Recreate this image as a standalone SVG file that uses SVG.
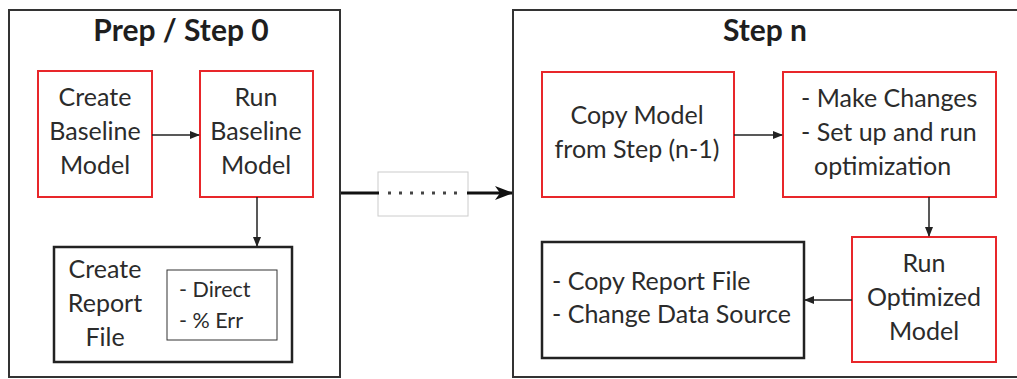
<svg xmlns="http://www.w3.org/2000/svg" width="1017" height="379" viewBox="0 0 1017 379">
<style>
.panel{fill:#fff;stroke:#333;stroke-width:2}
.red{fill:#fff;stroke:#e8262a;stroke-width:2}
.blk{fill:#fff;stroke:#222;stroke-width:2.5}
.thin{fill:#fff;stroke:#333;stroke-width:1}
.t{font-family:Lato,"Open Sans",sans-serif;font-size:25px;fill:#2b2b2b}
.s{font-family:Lato,"Open Sans",sans-serif;font-size:21.5px;fill:#2b2b2b}
.h{font-family:Lato,"Open Sans",sans-serif;font-size:30px;font-weight:bold;fill:#1e1e1e}
.c{text-anchor:middle}
.ln{fill:none;stroke:#222;stroke-width:1.5}
</style>
<defs>
<marker id="ah" markerWidth="10" markerHeight="10" refX="9" refY="5" orient="auto" markerUnits="userSpaceOnUse">
<path d="M0,1 L10,5 L0,9 Z" fill="#222"/>
</marker>
<marker id="big" markerWidth="18" markerHeight="14" refX="17" refY="7" orient="auto" markerUnits="userSpaceOnUse">
<path d="M0,0 L18,7 L0,14 L5,7 Z" fill="#111"/>
</marker>
</defs>
<g id="panel-prep">
<rect class="panel" x="9" y="10" width="331" height="367"/>
<text class="h c" x="181" y="41">Prep / Step 0</text>
</g>
<g id="panel-stepn">
<rect class="panel" x="513" y="10" width="510" height="367"/>
<text class="h c" x="765" y="41">Step n</text>
</g>
<g id="create-baseline">
<rect class="red" x="38" y="71" width="114" height="126"/>
<text class="t c" x="95" y="106">Create</text>
<text class="t c" x="95" y="140">Baseline</text>
<text class="t c" x="95" y="174">Model</text>
</g>
<g id="run-baseline">
<rect class="red" x="200" y="71" width="113" height="126"/>
<text class="t c" x="256" y="106">Run</text>
<text class="t c" x="256" y="140">Baseline</text>
<text class="t c" x="256" y="174">Model</text>
</g>
<g id="create-report">
<rect class="blk" x="54" y="247" width="238" height="115"/>
<text class="t c" x="105" y="278">Create</text>
<text class="t c" x="105" y="312">Report</text>
<text class="t c" x="105" y="346">File</text>
<rect class="thin" x="167" y="270" width="110" height="70"/>
<text class="s" x="179" y="297">- Direct</text>
<text class="s" x="179" y="328">- % Err</text>
</g>
<g id="copy-model">
<rect class="red" x="542" y="72" width="192" height="125"/>
<text class="t c" x="637" y="124">Copy Model</text>
<text class="t c" x="637" y="158">from Step (n-1)</text>
</g>
<g id="make-changes">
<rect class="red" x="783" y="72" width="213" height="125"/>
<text class="t" x="801" y="107">- Make Changes</text>
<text class="t" x="801" y="141">- Set up and run</text>
<text class="t" x="814" y="175">optimization</text>
</g>
<g id="run-optimized">
<rect class="red" x="852" y="237" width="144" height="125"/>
<text class="t c" x="924" y="272">Run</text>
<text class="t c" x="924" y="306">Optimized</text>
<text class="t c" x="924" y="340">Model</text>
</g>
<g id="copy-report">
<rect class="blk" x="542" y="242" width="262" height="116"/>
<text class="t" x="552" y="290">- Copy Report File</text>
<text class="t" x="552" y="323">- Change Data Source</text>
</g>
<g id="connectors">
<line class="ln" x1="152" y1="135" x2="199" y2="135" marker-end="url(#ah)"/>
<line class="ln" x1="257" y1="197" x2="257" y2="246" marker-end="url(#ah)"/>
<line class="ln" x1="734" y1="135" x2="782" y2="135" marker-end="url(#ah)"/>
<line class="ln" x1="929" y1="197" x2="929" y2="236" marker-end="url(#ah)"/>
<line class="ln" x1="852" y1="300" x2="805" y2="300" marker-end="url(#ah)"/>
<rect x="378" y="172" width="90" height="44" fill="#fff" stroke="#ccc" stroke-width="1"/>
<line x1="341" y1="193" x2="379" y2="193" stroke="#111" stroke-width="3"/>
<line x1="388" y1="193" x2="459" y2="193" stroke="#444" stroke-width="3" stroke-dasharray="3 8"/>
<line x1="467" y1="193" x2="512" y2="193" stroke="#111" stroke-width="3" marker-end="url(#big)"/>
</g>
</svg>
